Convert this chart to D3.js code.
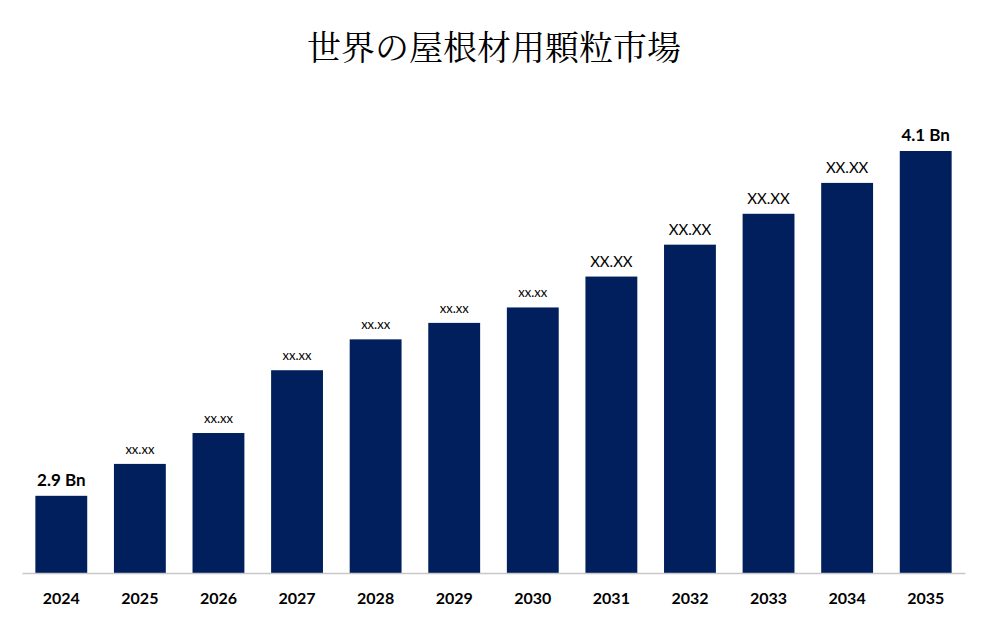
<!DOCTYPE html>
<html><head><meta charset="utf-8">
<script src="https://cdn.jsdelivr.net/npm/d3@7"></script>
<style>body{margin:0;background:#fff}</style></head>
<body><svg id="c" width="989" height="626"></svg>
<script>
const years = ["2024","2025","2026","2027","2028","2029","2030","2031","2032","2033","2034","2035"];
const values = [0.75,1.06,1.36,1.97,2.27,2.43,2.58,2.88,3.19,3.49,3.79,4.1];
const labels = ["2.9 Bn","xx.xx","xx.xx","xx.xx","xx.xx","xx.xx","xx.xx","XX.XX","XX.XX","XX.XX","XX.XX","4.1 Bn"];
const labelSizes = [17,13,13,13,13,13,13,15,15,15,15,17];
const title = "世界の屋根材用顆粒市場";

const svg = d3.select("#c");
const x = d3.scaleBand().domain(years).range([22,965]).paddingInner(0.34).paddingOuter(0.17);
const y = d3.scaleLinear().domain([0,4.1]).range([573,151]);

svg.append("text").attr("x",494).attr("y",60).attr("text-anchor","middle")
  .attr("font-family","'Noto Serif CJK JP','Noto Sans CJK JP',sans-serif").attr("font-size",34).attr("fill","#000").text(title);

svg.selectAll("rect.bar").data(values).join("rect").attr("class","bar")
  .attr("x",(d,i)=>x(years[i])).attr("width",x.bandwidth())
  .attr("y",d=>y(d)).attr("height",d=>573-y(d)).attr("fill","#001f5c");

svg.selectAll("text.lbl").data(values).join("text").attr("class","lbl")
  .attr("x",(d,i)=>x(years[i])+x.bandwidth()/2).attr("y",d=>y(d)-10)
  .attr("text-anchor","middle").attr("font-family","Lato, 'Open Sans', sans-serif")
  .attr("font-size",(d,i)=>labelSizes[i]).attr("font-weight",(d,i)=>(i==0||i==11)?"bold":"normal")
  .attr("fill","#000").text((d,i)=>labels[i]);

const ax = svg.append("g").attr("transform","translate(0,573)")
  .call(d3.axisBottom(x).tickSize(0).tickPadding(20));
ax.select(".domain").attr("stroke","#c8c8c8").attr("stroke-width",1.5);
ax.selectAll("text").attr("font-family","Lato, 'Open Sans', sans-serif").attr("font-size",16).attr("font-weight","bold").attr("fill","#000");
</script></body></html>
